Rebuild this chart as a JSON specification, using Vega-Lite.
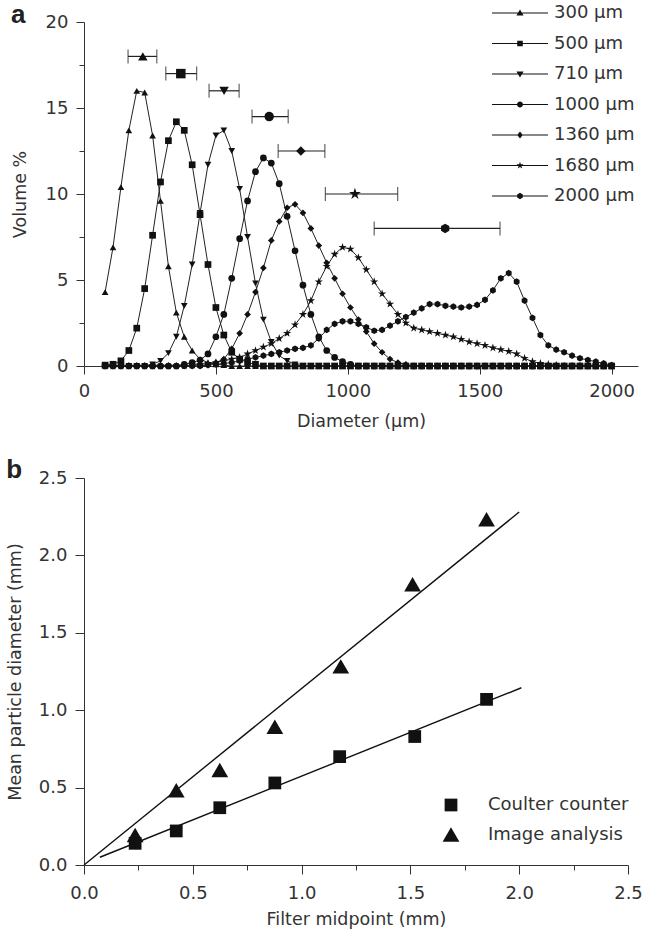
{
"$schema":"https://vega.github.io/schema/vega-lite/v6.json",
"padding":{"left":6,"top":2,"right":5,"bottom":5},
"spacing":27,
"resolve":{"scale":{"shape":"independent"},"legend":{"shape":"independent"}},
"config":{"view":{"stroke":null},"font":"DejaVu Sans",
"axis":{"labelFont":"DejaVu Sans","labelFontSize":18,"labelColor":"#333","titleFont":"DejaVu Sans","titleFontSize":17.5,"titleFontWeight":"normal","titleColor":"#333","domainColor":"#333","tickColor":"#333","grid":false,"labelFlush":false,"labelOverlap":false},
"legend":{"labelFont":"DejaVu Sans","labelFontSize":18,"labelColor":"#333"},
"title":{"font":"Liberation Sans","fontSize":26,"fontWeight":"bold","color":"#222","anchor":"start"}},
"datasets":{
"errs":[{"s":"300 µm","c":223,"lo":167,"hi":276,"y":18.0},{"s":"500 µm","c":367,"lo":310,"hi":427,"y":17.0},{"s":"710 µm","c":531,"lo":474,"hi":588,"y":16.0},{"s":"1000 µm","c":702,"lo":637,"hi":774,"y":14.5},{"s":"1360 µm","c":822,"lo":736,"hi":913,"y":12.5},{"s":"1680 µm","c":1027,"lo":915,"hi":1189,"y":10.0},{"s":"2000 µm","c":1369,"lo":1100,"hi":1577,"y":8.0}],
"pts":[{"s":"Coulter counter","x":0.235,"y":0.14},{"s":"Coulter counter","x":0.424,"y":0.22},{"s":"Coulter counter","x":0.624,"y":0.37},{"s":"Coulter counter","x":0.877,"y":0.53},{"s":"Coulter counter","x":1.175,"y":0.70},{"s":"Coulter counter","x":1.52,"y":0.83},{"s":"Coulter counter","x":1.85,"y":1.07},{"s":"Image analysis","x":0.235,"y":0.19},{"s":"Image analysis","x":0.424,"y":0.48},{"s":"Image analysis","x":0.624,"y":0.61},{"s":"Image analysis","x":0.877,"y":0.89},{"s":"Image analysis","x":1.18,"y":1.28},{"s":"Image analysis","x":1.51,"y":1.81},{"s":"Image analysis","x":1.85,"y":2.23}],
"fits":[{"s":"Coulter counter","x":0.073,"y":0.05},{"s":"Coulter counter","x":2.01,"y":1.145},{"s":"Image analysis","x":0.0,"y":0.0},{"s":"Image analysis","x":2.0,"y":2.28}],
"curves":[
{"s":"300 µm","d":80,"v":4.3},{"s":"300 µm","d":110,"v":6.9},{"s":"300 µm","d":140,"v":10.4},{"s":"300 µm","d":170,"v":13.7},{"s":"300 µm","d":200,"v":16.0},{"s":"300 µm","d":230,"v":15.9},{"s":"300 µm","d":260,"v":13.4},{"s":"300 µm","d":290,"v":9.6},{"s":"300 µm","d":320,"v":5.8},{"s":"300 µm","d":350,"v":3.1},{"s":"300 µm","d":380,"v":1.7},{"s":"300 µm","d":410,"v":0.9},{"s":"300 µm","d":440,"v":0.4},{"s":"300 µm","d":470,"v":0.2},{"s":"300 µm","d":500,"v":0.1},{"s":"300 µm","d":530,"v":0.05},{"s":"300 µm","d":560,"v":0},{"s":"300 µm","d":590,"v":0},{"s":"300 µm","d":620,"v":0},{"s":"300 µm","d":650,"v":0},{"s":"300 µm","d":680,"v":0},{"s":"300 µm","d":710,"v":0},{"s":"300 µm","d":740,"v":0},{"s":"300 µm","d":770,"v":0},{"s":"300 µm","d":800,"v":0},{"s":"300 µm","d":830,"v":0},{"s":"300 µm","d":860,"v":0},{"s":"300 µm","d":890,"v":0},{"s":"300 µm","d":920,"v":0},{"s":"300 µm","d":950,"v":0},{"s":"300 µm","d":980,"v":0},{"s":"300 µm","d":1010,"v":0},{"s":"300 µm","d":1040,"v":0},{"s":"300 µm","d":1070,"v":0},{"s":"300 µm","d":1100,"v":0},{"s":"300 µm","d":1130,"v":0},{"s":"300 µm","d":1160,"v":0},{"s":"300 µm","d":1190,"v":0},{"s":"300 µm","d":1220,"v":0},{"s":"300 µm","d":1250,"v":0},{"s":"300 µm","d":1280,"v":0},{"s":"300 µm","d":1310,"v":0},{"s":"300 µm","d":1340,"v":0},{"s":"300 µm","d":1370,"v":0},{"s":"300 µm","d":1400,"v":0},{"s":"300 µm","d":1430,"v":0},{"s":"300 µm","d":1460,"v":0},{"s":"300 µm","d":1490,"v":0},{"s":"300 µm","d":1520,"v":0},{"s":"300 µm","d":1550,"v":0},{"s":"300 µm","d":1580,"v":0},{"s":"300 µm","d":1610,"v":0},{"s":"300 µm","d":1640,"v":0},{"s":"300 µm","d":1670,"v":0},{"s":"300 µm","d":1700,"v":0},{"s":"300 µm","d":1730,"v":0},{"s":"300 µm","d":1760,"v":0},{"s":"300 µm","d":1790,"v":0},{"s":"300 µm","d":1820,"v":0},{"s":"300 µm","d":1850,"v":0},{"s":"300 µm","d":1880,"v":0},{"s":"300 µm","d":1910,"v":0},{"s":"300 µm","d":1940,"v":0},{"s":"300 µm","d":1970,"v":0},{"s":"300 µm","d":2000,"v":0},
{"s":"500 µm","d":80,"v":0.05},{"s":"500 µm","d":110,"v":0.1},{"s":"500 µm","d":140,"v":0.3},{"s":"500 µm","d":170,"v":0.9},{"s":"500 µm","d":200,"v":2.2},{"s":"500 µm","d":230,"v":4.5},{"s":"500 µm","d":260,"v":7.6},{"s":"500 µm","d":290,"v":10.7},{"s":"500 µm","d":320,"v":13.1},{"s":"500 µm","d":350,"v":14.2},{"s":"500 µm","d":380,"v":13.7},{"s":"500 µm","d":410,"v":11.7},{"s":"500 µm","d":440,"v":8.8},{"s":"500 µm","d":470,"v":5.9},{"s":"500 µm","d":500,"v":3.4},{"s":"500 µm","d":530,"v":1.8},{"s":"500 µm","d":560,"v":0.8},{"s":"500 µm","d":590,"v":0.4},{"s":"500 µm","d":620,"v":0.2},{"s":"500 µm","d":650,"v":0.1},{"s":"500 µm","d":680,"v":0},{"s":"500 µm","d":710,"v":0},{"s":"500 µm","d":740,"v":0},{"s":"500 µm","d":770,"v":0},{"s":"500 µm","d":800,"v":0},{"s":"500 µm","d":830,"v":0},{"s":"500 µm","d":860,"v":0},{"s":"500 µm","d":890,"v":0},{"s":"500 µm","d":920,"v":0},{"s":"500 µm","d":950,"v":0},{"s":"500 µm","d":980,"v":0},{"s":"500 µm","d":1010,"v":0},{"s":"500 µm","d":1040,"v":0},{"s":"500 µm","d":1070,"v":0},{"s":"500 µm","d":1100,"v":0},{"s":"500 µm","d":1130,"v":0},{"s":"500 µm","d":1160,"v":0},{"s":"500 µm","d":1190,"v":0},{"s":"500 µm","d":1220,"v":0},{"s":"500 µm","d":1250,"v":0},{"s":"500 µm","d":1280,"v":0},{"s":"500 µm","d":1310,"v":0},{"s":"500 µm","d":1340,"v":0},{"s":"500 µm","d":1370,"v":0},{"s":"500 µm","d":1400,"v":0},{"s":"500 µm","d":1430,"v":0},{"s":"500 µm","d":1460,"v":0},{"s":"500 µm","d":1490,"v":0},{"s":"500 µm","d":1520,"v":0},{"s":"500 µm","d":1550,"v":0},{"s":"500 µm","d":1580,"v":0},{"s":"500 µm","d":1610,"v":0},{"s":"500 µm","d":1640,"v":0},{"s":"500 µm","d":1670,"v":0},{"s":"500 µm","d":1700,"v":0},{"s":"500 µm","d":1730,"v":0},{"s":"500 µm","d":1760,"v":0},{"s":"500 µm","d":1790,"v":0},{"s":"500 µm","d":1820,"v":0},{"s":"500 µm","d":1850,"v":0},{"s":"500 µm","d":1880,"v":0},{"s":"500 µm","d":1910,"v":0},{"s":"500 µm","d":1940,"v":0},{"s":"500 µm","d":1970,"v":0},{"s":"500 µm","d":2000,"v":0},
{"s":"710 µm","d":80,"v":0},{"s":"710 µm","d":110,"v":0},{"s":"710 µm","d":140,"v":0},{"s":"710 µm","d":170,"v":0},{"s":"710 µm","d":200,"v":0},{"s":"710 µm","d":230,"v":0},{"s":"710 µm","d":260,"v":0.1},{"s":"710 µm","d":290,"v":0.3},{"s":"710 µm","d":320,"v":0.75},{"s":"710 µm","d":350,"v":1.7},{"s":"710 µm","d":380,"v":3.5},{"s":"710 µm","d":410,"v":5.9},{"s":"710 µm","d":440,"v":8.9},{"s":"710 µm","d":470,"v":11.7},{"s":"710 µm","d":500,"v":13.4},{"s":"710 µm","d":530,"v":13.7},{"s":"710 µm","d":560,"v":12.5},{"s":"710 µm","d":590,"v":10.3},{"s":"710 µm","d":620,"v":7.5},{"s":"710 µm","d":650,"v":4.8},{"s":"710 µm","d":680,"v":2.7},{"s":"710 µm","d":710,"v":1.4},{"s":"710 µm","d":740,"v":0.6},{"s":"710 µm","d":770,"v":0.3},{"s":"710 µm","d":800,"v":0.1},{"s":"710 µm","d":830,"v":0},{"s":"710 µm","d":860,"v":0},{"s":"710 µm","d":890,"v":0},{"s":"710 µm","d":920,"v":0},{"s":"710 µm","d":950,"v":0},{"s":"710 µm","d":980,"v":0},{"s":"710 µm","d":1010,"v":0},{"s":"710 µm","d":1040,"v":0},{"s":"710 µm","d":1070,"v":0},{"s":"710 µm","d":1100,"v":0},{"s":"710 µm","d":1130,"v":0},{"s":"710 µm","d":1160,"v":0},{"s":"710 µm","d":1190,"v":0},{"s":"710 µm","d":1220,"v":0},{"s":"710 µm","d":1250,"v":0},{"s":"710 µm","d":1280,"v":0},{"s":"710 µm","d":1310,"v":0},{"s":"710 µm","d":1340,"v":0},{"s":"710 µm","d":1370,"v":0},{"s":"710 µm","d":1400,"v":0},{"s":"710 µm","d":1430,"v":0},{"s":"710 µm","d":1460,"v":0},{"s":"710 µm","d":1490,"v":0},{"s":"710 µm","d":1520,"v":0},{"s":"710 µm","d":1550,"v":0},{"s":"710 µm","d":1580,"v":0},{"s":"710 µm","d":1610,"v":0},{"s":"710 µm","d":1640,"v":0},{"s":"710 µm","d":1670,"v":0},{"s":"710 µm","d":1700,"v":0},{"s":"710 µm","d":1730,"v":0},{"s":"710 µm","d":1760,"v":0},{"s":"710 µm","d":1790,"v":0},{"s":"710 µm","d":1820,"v":0},{"s":"710 µm","d":1850,"v":0},{"s":"710 µm","d":1880,"v":0},{"s":"710 µm","d":1910,"v":0},{"s":"710 µm","d":1940,"v":0},{"s":"710 µm","d":1970,"v":0},{"s":"710 µm","d":2000,"v":0},
{"s":"1000 µm","d":80,"v":0},{"s":"1000 µm","d":110,"v":0},{"s":"1000 µm","d":140,"v":0},{"s":"1000 µm","d":170,"v":0},{"s":"1000 µm","d":200,"v":0},{"s":"1000 µm","d":230,"v":0},{"s":"1000 µm","d":260,"v":0},{"s":"1000 µm","d":290,"v":0},{"s":"1000 µm","d":320,"v":0},{"s":"1000 µm","d":350,"v":0},{"s":"1000 µm","d":380,"v":0.1},{"s":"1000 µm","d":410,"v":0.2},{"s":"1000 µm","d":440,"v":0.35},{"s":"1000 µm","d":470,"v":0.7},{"s":"1000 µm","d":500,"v":1.7},{"s":"1000 µm","d":530,"v":3.0},{"s":"1000 µm","d":560,"v":5.1},{"s":"1000 µm","d":590,"v":7.4},{"s":"1000 µm","d":620,"v":9.6},{"s":"1000 µm","d":650,"v":11.3},{"s":"1000 µm","d":680,"v":12.1},{"s":"1000 µm","d":710,"v":11.8},{"s":"1000 µm","d":740,"v":10.6},{"s":"1000 µm","d":770,"v":8.7},{"s":"1000 µm","d":800,"v":6.7},{"s":"1000 µm","d":830,"v":4.7},{"s":"1000 µm","d":860,"v":3.0},{"s":"1000 µm","d":890,"v":1.7},{"s":"1000 µm","d":920,"v":0.9},{"s":"1000 µm","d":950,"v":0.5},{"s":"1000 µm","d":980,"v":0.25},{"s":"1000 µm","d":1010,"v":0.1},{"s":"1000 µm","d":1040,"v":0},{"s":"1000 µm","d":1070,"v":0},{"s":"1000 µm","d":1100,"v":0},{"s":"1000 µm","d":1130,"v":0},{"s":"1000 µm","d":1160,"v":0},{"s":"1000 µm","d":1190,"v":0},{"s":"1000 µm","d":1220,"v":0},{"s":"1000 µm","d":1250,"v":0},{"s":"1000 µm","d":1280,"v":0},{"s":"1000 µm","d":1310,"v":0},{"s":"1000 µm","d":1340,"v":0},{"s":"1000 µm","d":1370,"v":0},{"s":"1000 µm","d":1400,"v":0},{"s":"1000 µm","d":1430,"v":0},{"s":"1000 µm","d":1460,"v":0},{"s":"1000 µm","d":1490,"v":0},{"s":"1000 µm","d":1520,"v":0},{"s":"1000 µm","d":1550,"v":0},{"s":"1000 µm","d":1580,"v":0},{"s":"1000 µm","d":1610,"v":0},{"s":"1000 µm","d":1640,"v":0},{"s":"1000 µm","d":1670,"v":0},{"s":"1000 µm","d":1700,"v":0},{"s":"1000 µm","d":1730,"v":0},{"s":"1000 µm","d":1760,"v":0},{"s":"1000 µm","d":1790,"v":0},{"s":"1000 µm","d":1820,"v":0},{"s":"1000 µm","d":1850,"v":0},{"s":"1000 µm","d":1880,"v":0},{"s":"1000 µm","d":1910,"v":0},{"s":"1000 µm","d":1940,"v":0},{"s":"1000 µm","d":1970,"v":0},{"s":"1000 µm","d":2000,"v":0},
{"s":"1360 µm","d":80,"v":0},{"s":"1360 µm","d":110,"v":0},{"s":"1360 µm","d":140,"v":0},{"s":"1360 µm","d":170,"v":0},{"s":"1360 µm","d":200,"v":0},{"s":"1360 µm","d":230,"v":0},{"s":"1360 µm","d":260,"v":0},{"s":"1360 µm","d":290,"v":0},{"s":"1360 µm","d":320,"v":0},{"s":"1360 µm","d":350,"v":0},{"s":"1360 µm","d":380,"v":0},{"s":"1360 µm","d":410,"v":0},{"s":"1360 µm","d":440,"v":0},{"s":"1360 µm","d":470,"v":0.1},{"s":"1360 µm","d":500,"v":0.2},{"s":"1360 µm","d":530,"v":0.4},{"s":"1360 µm","d":560,"v":1.0},{"s":"1360 µm","d":590,"v":1.9},{"s":"1360 µm","d":620,"v":3.0},{"s":"1360 µm","d":650,"v":4.3},{"s":"1360 µm","d":680,"v":5.7},{"s":"1360 µm","d":710,"v":7.3},{"s":"1360 µm","d":740,"v":8.4},{"s":"1360 µm","d":770,"v":9.2},{"s":"1360 µm","d":800,"v":9.4},{"s":"1360 µm","d":830,"v":8.9},{"s":"1360 µm","d":860,"v":8.0},{"s":"1360 µm","d":890,"v":7.0},{"s":"1360 µm","d":920,"v":6.0},{"s":"1360 µm","d":950,"v":5.1},{"s":"1360 µm","d":980,"v":4.2},{"s":"1360 µm","d":1010,"v":3.4},{"s":"1360 µm","d":1040,"v":2.7},{"s":"1360 µm","d":1070,"v":2.0},{"s":"1360 µm","d":1100,"v":1.3},{"s":"1360 µm","d":1130,"v":0.8},{"s":"1360 µm","d":1160,"v":0.4},{"s":"1360 µm","d":1190,"v":0.2},{"s":"1360 µm","d":1220,"v":0.1},{"s":"1360 µm","d":1250,"v":0},{"s":"1360 µm","d":1280,"v":0},{"s":"1360 µm","d":1310,"v":0},{"s":"1360 µm","d":1340,"v":0},{"s":"1360 µm","d":1370,"v":0},{"s":"1360 µm","d":1400,"v":0},{"s":"1360 µm","d":1430,"v":0},{"s":"1360 µm","d":1460,"v":0},{"s":"1360 µm","d":1490,"v":0},{"s":"1360 µm","d":1520,"v":0},{"s":"1360 µm","d":1550,"v":0},{"s":"1360 µm","d":1580,"v":0},{"s":"1360 µm","d":1610,"v":0},{"s":"1360 µm","d":1640,"v":0},{"s":"1360 µm","d":1670,"v":0},{"s":"1360 µm","d":1700,"v":0},{"s":"1360 µm","d":1730,"v":0},{"s":"1360 µm","d":1760,"v":0},{"s":"1360 µm","d":1790,"v":0},{"s":"1360 µm","d":1820,"v":0},{"s":"1360 µm","d":1850,"v":0},{"s":"1360 µm","d":1880,"v":0},{"s":"1360 µm","d":1910,"v":0},{"s":"1360 µm","d":1940,"v":0},{"s":"1360 µm","d":1970,"v":0},{"s":"1360 µm","d":2000,"v":0},
{"s":"1680 µm","d":80,"v":0},{"s":"1680 µm","d":110,"v":0},{"s":"1680 µm","d":140,"v":0},{"s":"1680 µm","d":170,"v":0},{"s":"1680 µm","d":200,"v":0},{"s":"1680 µm","d":230,"v":0},{"s":"1680 µm","d":260,"v":0},{"s":"1680 µm","d":290,"v":0},{"s":"1680 µm","d":320,"v":0},{"s":"1680 µm","d":350,"v":0},{"s":"1680 µm","d":380,"v":0},{"s":"1680 µm","d":410,"v":0.05},{"s":"1680 µm","d":440,"v":0.1},{"s":"1680 µm","d":470,"v":0.15},{"s":"1680 µm","d":500,"v":0.2},{"s":"1680 µm","d":530,"v":0.3},{"s":"1680 µm","d":560,"v":0.4},{"s":"1680 µm","d":590,"v":0.5},{"s":"1680 µm","d":620,"v":0.7},{"s":"1680 µm","d":650,"v":0.9},{"s":"1680 µm","d":680,"v":1.1},{"s":"1680 µm","d":710,"v":1.3},{"s":"1680 µm","d":740,"v":1.6},{"s":"1680 µm","d":770,"v":1.9},{"s":"1680 µm","d":800,"v":2.4},{"s":"1680 µm","d":830,"v":3.0},{"s":"1680 µm","d":860,"v":3.8},{"s":"1680 µm","d":890,"v":4.9},{"s":"1680 µm","d":920,"v":5.8},{"s":"1680 µm","d":950,"v":6.5},{"s":"1680 µm","d":980,"v":6.9},{"s":"1680 µm","d":1010,"v":6.8},{"s":"1680 µm","d":1040,"v":6.3},{"s":"1680 µm","d":1070,"v":5.6},{"s":"1680 µm","d":1100,"v":4.9},{"s":"1680 µm","d":1130,"v":4.2},{"s":"1680 µm","d":1160,"v":3.6},{"s":"1680 µm","d":1190,"v":3.0},{"s":"1680 µm","d":1220,"v":2.5},{"s":"1680 µm","d":1250,"v":2.2},{"s":"1680 µm","d":1280,"v":2.1},{"s":"1680 µm","d":1310,"v":2.0},{"s":"1680 µm","d":1340,"v":1.9},{"s":"1680 µm","d":1370,"v":1.8},{"s":"1680 µm","d":1400,"v":1.7},{"s":"1680 µm","d":1430,"v":1.55},{"s":"1680 µm","d":1460,"v":1.4},{"s":"1680 µm","d":1490,"v":1.3},{"s":"1680 µm","d":1520,"v":1.2},{"s":"1680 µm","d":1550,"v":1.05},{"s":"1680 µm","d":1580,"v":0.95},{"s":"1680 µm","d":1610,"v":0.85},{"s":"1680 µm","d":1640,"v":0.7},{"s":"1680 µm","d":1670,"v":0.45},{"s":"1680 µm","d":1700,"v":0.25},{"s":"1680 µm","d":1730,"v":0.15},{"s":"1680 µm","d":1760,"v":0.1},{"s":"1680 µm","d":1790,"v":0.05},{"s":"1680 µm","d":1820,"v":0},{"s":"1680 µm","d":1850,"v":0},{"s":"1680 µm","d":1880,"v":0},{"s":"1680 µm","d":1910,"v":0},{"s":"1680 µm","d":1940,"v":0},{"s":"1680 µm","d":1970,"v":0},{"s":"1680 µm","d":2000,"v":0},
{"s":"2000 µm","d":80,"v":0},{"s":"2000 µm","d":110,"v":0},{"s":"2000 µm","d":140,"v":0},{"s":"2000 µm","d":170,"v":0},{"s":"2000 µm","d":200,"v":0},{"s":"2000 µm","d":230,"v":0},{"s":"2000 µm","d":260,"v":0},{"s":"2000 µm","d":290,"v":0},{"s":"2000 µm","d":320,"v":0},{"s":"2000 µm","d":350,"v":0},{"s":"2000 µm","d":380,"v":0},{"s":"2000 µm","d":410,"v":0},{"s":"2000 µm","d":440,"v":0},{"s":"2000 µm","d":470,"v":0.05},{"s":"2000 µm","d":500,"v":0.1},{"s":"2000 µm","d":530,"v":0.15},{"s":"2000 µm","d":560,"v":0.2},{"s":"2000 µm","d":590,"v":0.3},{"s":"2000 µm","d":620,"v":0.4},{"s":"2000 µm","d":650,"v":0.5},{"s":"2000 µm","d":680,"v":0.6},{"s":"2000 µm","d":710,"v":0.7},{"s":"2000 µm","d":740,"v":0.8},{"s":"2000 µm","d":770,"v":0.9},{"s":"2000 µm","d":800,"v":1.0},{"s":"2000 µm","d":830,"v":1.05},{"s":"2000 µm","d":860,"v":1.2},{"s":"2000 µm","d":890,"v":1.6},{"s":"2000 µm","d":920,"v":2.1},{"s":"2000 µm","d":950,"v":2.45},{"s":"2000 µm","d":980,"v":2.6},{"s":"2000 µm","d":1010,"v":2.6},{"s":"2000 µm","d":1040,"v":2.45},{"s":"2000 µm","d":1070,"v":2.25},{"s":"2000 µm","d":1100,"v":2.05},{"s":"2000 µm","d":1130,"v":2.1},{"s":"2000 µm","d":1160,"v":2.35},{"s":"2000 µm","d":1190,"v":2.6},{"s":"2000 µm","d":1220,"v":2.85},{"s":"2000 µm","d":1250,"v":3.1},{"s":"2000 µm","d":1280,"v":3.35},{"s":"2000 µm","d":1310,"v":3.6},{"s":"2000 µm","d":1340,"v":3.6},{"s":"2000 µm","d":1370,"v":3.5},{"s":"2000 µm","d":1400,"v":3.45},{"s":"2000 µm","d":1430,"v":3.4},{"s":"2000 µm","d":1460,"v":3.45},{"s":"2000 µm","d":1490,"v":3.55},{"s":"2000 µm","d":1520,"v":3.85},{"s":"2000 µm","d":1550,"v":4.4},{"s":"2000 µm","d":1580,"v":5.1},{"s":"2000 µm","d":1610,"v":5.4},{"s":"2000 µm","d":1640,"v":4.9},{"s":"2000 µm","d":1670,"v":3.8},{"s":"2000 µm","d":1700,"v":2.8},{"s":"2000 µm","d":1730,"v":1.8},{"s":"2000 µm","d":1760,"v":1.2},{"s":"2000 µm","d":1790,"v":0.95},{"s":"2000 µm","d":1820,"v":0.8},{"s":"2000 µm","d":1850,"v":0.6},{"s":"2000 µm","d":1880,"v":0.45},{"s":"2000 µm","d":1910,"v":0.35},{"s":"2000 µm","d":1940,"v":0.25},{"s":"2000 µm","d":1970,"v":0.15},{"s":"2000 µm","d":2000,"v":0.05}
]},
"vconcat":[
{"width":554,"height":344,
"title":{"text":"a","anchor":"start","frame":"bounds","offset":-24},
"layer":[
{"data":{"name":"curves"},"mark":{"type":"line","color":"#222","strokeWidth":1},
"encoding":{"x":{"field":"d","type":"quantitative","title":"Diameter (µm)","scale":{"domain":[0,2100],"nice":false,"zero":false},"axis":{"values":[0,500,1000,1500,2000],"format":"d","tickSize":8,"labelPadding":8,"titlePadding":12}},
"y":{"field":"v","type":"quantitative","title":"Volume %","scale":{"domain":[0,20],"nice":false},"axis":{"values":[0,2.5,5,7.5,10,12.5,15,17.5,20],"format":"d","labelExpr":"datum.value % 5 === 0 ? datum.label : ''","tickSize":{"condition":{"test":"datum.value % 5 === 0","value":8},"value":5},"labelPadding":8,"titlePadding":16}},
"detail":{"field":"s"}}},
{"data":{"name":"curves"},"mark":{"type":"point","filled":true,"color":"#111","opacity":1,"size":45},
"encoding":{"x":{"field":"d","type":"quantitative","title":"Diameter (µm)"},"y":{"field":"v","type":"quantitative","title":"Volume %"},
"shape":{"field":"s","type":"nominal","legend":null,"scale":{"domain":["300 µm","500 µm","710 µm","1000 µm","1360 µm","1680 µm","2000 µm"],"range":["triangle-up","square","triangle-down","circle","diamond","M0,-1.3L0.29,-0.4L1.24,-0.4L0.47,0.15L0.76,1.05L0,0.5L-0.76,1.05L-0.47,0.15L-1.24,-0.4L-0.29,-0.4Z","M0,-1L0.866,-0.5L0.866,0.5L0,1L-0.866,0.5L-0.866,-0.5Z"]}}}},
{"data":{"name":"errs"},"mark":{"type":"errorbar","color":"#222","ticks":{"size":14,"thickness":1.2},"thickness":1.2},
"encoding":{"x":{"field":"lo","type":"quantitative","title":"Diameter (µm)"},"x2":{"field":"hi"},"y":{"field":"y","type":"quantitative","title":"Volume %"}}},
{"data":{"name":"errs"},"mark":{"type":"point","filled":true,"color":"#111","opacity":1,"size":90},
"encoding":{"x":{"field":"c","type":"quantitative","title":"Diameter (µm)"},"y":{"field":"y","type":"quantitative","title":"Volume %"},
"shape":{"field":"s","type":"nominal","legend":null,"scale":{"domain":["300 µm","500 µm","710 µm","1000 µm","1360 µm","1680 µm","2000 µm"],"range":["triangle-up","square","triangle-down","circle","diamond","M0,-1.3L0.29,-0.4L1.24,-0.4L0.47,0.15L0.76,1.05L0,0.5L-0.76,1.05L-0.47,0.15L-1.24,-0.4L-0.29,-0.4Z","M0,-1L0.866,-0.5L0.866,0.5L0,1L-0.866,0.5L-0.866,-0.5Z"]}}}},
{"data":{"name":"errs"},"mark":{"type":"point","filled":true,"color":"#111","opacity":0},
"encoding":{"x":{"field":"c","type":"quantitative","title":"Diameter (µm)"},"y":{"field":"y","type":"quantitative","title":"Volume %"},
"shape":{"field":"s","type":"nominal","scale":{"domain":["300 µm","500 µm","710 µm","1000 µm","1360 µm","1680 µm","2000 µm"],"range":["M-14,-0.27L14,-0.27L14,0.27L-14,0.27ZM0,-1.8L1.8,1.3L-1.8,1.3Z","M-14,-0.27L14,-0.27L14,0.27L-14,0.27ZM-1.4,-1.4L1.4,-1.4L1.4,1.4L-1.4,1.4Z","M-14,-0.27L14,-0.27L14,0.27L-14,0.27ZM-1.8,-1.3L1.8,-1.3L0,1.8Z","M-14,-0.27L14,-0.27L14,0.27L-14,0.27ZM-1.5,0A1.5,1.5,0,1,1,1.5,0A1.5,1.5,0,1,1,-1.5,0Z","M-14,-0.27L14,-0.27L14,0.27L-14,0.27ZM0,-1.8L1.4,0L0,1.8L-1.4,0Z","M-14,-0.27L14,-0.27L14,0.27L-14,0.27ZM0,-1.9L0.43,-0.6L1.8,-0.6L0.69,0.22L1.12,1.54L0,0.73L-1.12,1.54L-0.69,0.22L-1.8,-0.6L-0.43,-0.6Z","M-14,-0.27L14,-0.27L14,0.27L-14,0.27ZM0,-1.6L1.4,-0.8L1.4,0.8L0,1.6L-1.4,0.8L-1.4,-0.8Z"]},
"legend":{"orient":"none","legendX":427,"legendY":-18,"title":null,"symbolSize":16,"symbolOpacity":1,"labelOffset":25,"rowPadding":12.5,"encode":{"symbols":{"update":{"fill":{"value":"#111"},"opacity":{"value":1}}}}}}}}
],
"resolve":{"scale":{"shape":"independent"},"legend":{"shape":"independent"}}},
{"width":544,"height":387,
"title":{"text":"b","anchor":"start","frame":"bounds","offset":-14},
"layer":[
{"data":{"name":"fits"},"mark":{"type":"line","color":"#111","strokeWidth":1.4},
"encoding":{"x":{"field":"x","type":"quantitative","title":"Filter midpoint (mm)","scale":{"domain":[0,2.5],"nice":false},"axis":{"values":[0,0.25,0.5,0.75,1,1.25,1.5,1.75,2,2.25,2.5],"format":".1f","labelExpr":"abs(datum.value*2-round(datum.value*2))<0.001 ? datum.label : ''","tickSize":{"condition":{"test":"abs(datum.value*2-round(datum.value*2))<0.001","value":9},"value":5},"labelPadding":10,"titlePadding":8}},
"y":{"field":"y","type":"quantitative","title":"Mean particle diameter (mm)","scale":{"domain":[0,2.5],"nice":false},"axis":{"values":[0,0.25,0.5,0.75,1,1.25,1.5,1.75,2,2.25,2.5],"format":".1f","labelExpr":"abs(datum.value*2-round(datum.value*2))<0.001 ? datum.label : ''","tickSize":{"condition":{"test":"abs(datum.value*2-round(datum.value*2))<0.001","value":9},"value":5},"labelPadding":8,"titlePadding":14}},
"detail":{"field":"s"}}},
{"data":{"name":"pts"},"mark":{"type":"point","filled":true,"color":"#111","opacity":1,"size":180},
"encoding":{"x":{"field":"x","type":"quantitative","title":"Filter midpoint (mm)"},"y":{"field":"y","type":"quantitative","title":"Mean particle diameter (mm)"},
"shape":{"field":"s","type":"nominal","scale":{"domain":["Coulter counter","Image analysis"],"range":["M-0.95,-0.95L0.95,-0.95L0.95,0.95L-0.95,0.95Z","M0,-1.15L1.25,1L-1.25,1Z"]},
"legend":{"orient":"none","legendX":358,"legendY":318,"title":null,"symbolSize":180,"symbolOpacity":1,"symbolFillColor":"#111","symbolStrokeWidth":0,"labelOffset":28,"rowPadding":12}}}}
]}
]}
